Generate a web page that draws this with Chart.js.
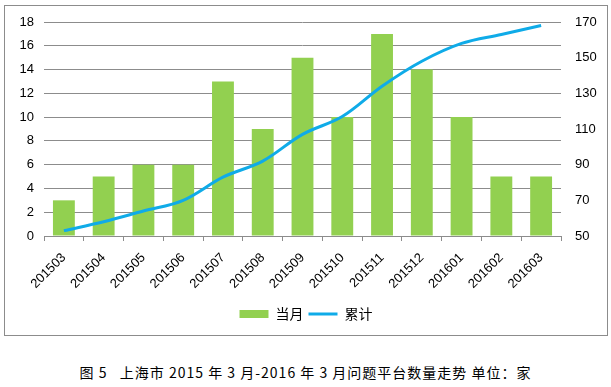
<!DOCTYPE html>
<html>
<head>
<meta charset="utf-8">
<script src="https://cdn.jsdelivr.net/npm/chart.js@4/dist/chart.umd.min.js"></script>
<style>
  html, body { margin:0; padding:0; background:#fff; }
  body { width:611px; height:387px; position:relative; overflow:hidden; }
  #box { position:absolute; left:4px; top:5px; width:602px; height:329px; border:1px solid #8c8c8c; }
  #c { position:absolute; left:0; top:0; }
  #caption { position:absolute; left:0; top:362px; width:611px; text-align:center;
    font-family:"Noto Sans CJK SC", sans-serif; font-size:14px; color:#000; white-space:pre; letter-spacing:1px; }
</style>
</head>
<body>
<div id="box"><canvas id="c" width="602" height="329"></canvas></div>
<div id="caption">图 5   上海市 2015 年 3 月-2016 年 3 月问题平台数量走势 单位：家</div>
<script>
(function(){
  'use strict';

  // data
  const months = ['201503','201504','201505','201506','201507','201508','201509','201510','201511','201512','201601','201602','201603'];
  const monthly = [3, 5, 6, 6, 13, 9, 15, 10, 17, 14, 10, 5, 5];
  const cumulative = [53, 58, 64, 70, 83, 92, 107, 117, 134, 148, 158, 163, 168];
  const leftTicks = [0, 2, 4, 6, 8, 10, 12, 14, 16, 18];
  const rightTicks = [50, 70, 90, 110, 130, 150, 170];

  const fontFam = '"Liberation Sans", "Noto Sans CJK SC", sans-serif';
  const gridColor = '#8c8c8c';

  // fixed axis width, and no extra overhang padding from tick labels
  function fitY(width){
    return function(s){
      s.width = width;
      s.paddingTop = 0;
      s.paddingBottom = 0;
    };
  }

  const ctx = document.getElementById('c').getContext('2d');
  new Chart(ctx, {
    type: 'bar',
    data: {
      labels: months,
      datasets: [
        { label:'当月', data:monthly, backgroundColor:'#92d050', yAxisID:'y', order:1,
          barPercentage:0.55, categoryPercentage:1, pointStyle:'rect' },
        { label:'累计', type:'line', data:cumulative, borderColor:'#0fabe8', backgroundColor:'#0fabe8',
          borderWidth:3, pointRadius:0, tension:0.35, yAxisID:'y1', order:0, pointStyle:'line' }
      ]
    },
    options: {
      responsive:false, animation:false, devicePixelRatio:1,
      layout:{ padding:{ top:16, bottom:4, left:0, right:0 } },
      plugins:{
        tooltip:{ enabled:false },
        legend:{
          position:'bottom',
          labels:{
            usePointStyle:true, pointStyleWidth:29, boxHeight:8,
            padding:5, color:'#000',
            font:{ family:'"Noto Sans CJK SC", sans-serif', size:14 },
            sort:(a, b) => a.datasetIndex - b.datasetIndex
          }
        }
      },
      scales:{
        x:{
          offset:true,
          grid:{ display:true, drawOnChartArea:false, offset:true, tickLength:5, color:gridColor },
          border:{ color:gridColor },
          ticks:{ autoSkip:false, minRotation:45, maxRotation:45, color:'#000', font:{ family:fontFam, size:13 }, padding:9 },
          afterFit:(s) => { s.height = 66; }
        },
        y:{
          position:'left', min:0, max:18,
          afterBuildTicks:(s) => { s.ticks = leftTicks.map(v => ({ value:v })); },
          grid:{ color:gridColor, drawTicks:false },
          border:{ display:false },
          ticks:{ color:'#000', font:{ family:fontFam, size:13 }, padding:10 },
          afterFit:fitY(39)
        },
        y1:{
          position:'right', min:50, max:170,
          afterBuildTicks:(s) => { s.ticks = rightTicks.map(v => ({ value:v })); },
          grid:{ drawOnChartArea:false, drawTicks:false },
          border:{ display:false },
          ticks:{ color:'#000', font:{ family:fontFam, size:13 }, padding:14 },
          afterFit:fitY(46)
        }
      }
    }
  });
})();
</script>
</body>
</html>
